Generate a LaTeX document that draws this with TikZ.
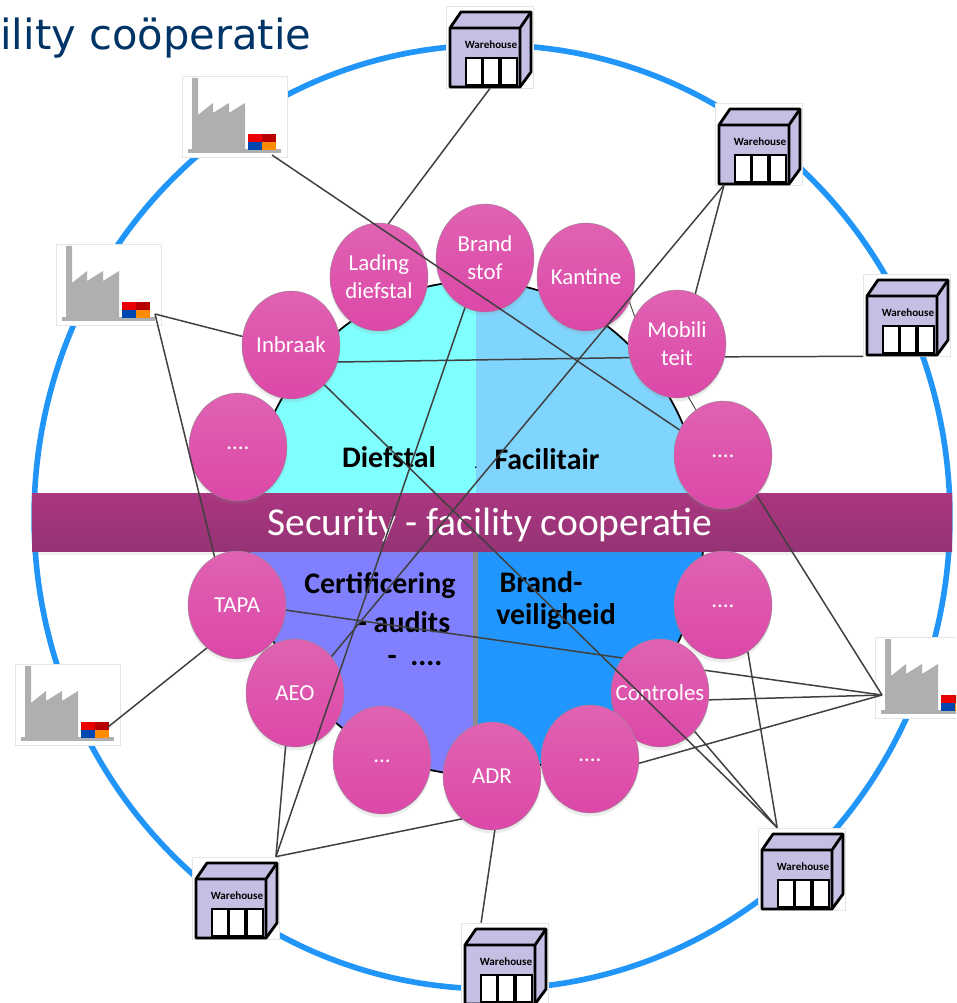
\documentclass[tikz,border=0pt]{standalone}
\usepackage{fontspec}
\setmainfont{Carlito}
\newfontfamily\headfont{DejaVu Sans}
\usepackage{tikz}
\usetikzlibrary{shapes.geometric,shadows}
\definecolor{ringblue}{HTML}{2196F8}
\definecolor{whfill}{HTML}{C5BFE3}
\definecolor{facgrey}{HTML}{AEAFB1}
\definecolor{linkgrey}{HTML}{404040}
\definecolor{bubtop}{HTML}{E062B2}
\definecolor{bubbot}{HTML}{DC48A8}
\definecolor{purpletop}{HTML}{AA367F}
\definecolor{purplebot}{HTML}{953375}
\definecolor{titleblue}{HTML}{003366}
\definecolor{dieffill}{HTML}{80FFFF}
\definecolor{facifill}{HTML}{80D5FF}
\definecolor{certfill}{HTML}{8080FF}
\definecolor{brandfill}{HTML}{2196FF}
\newcommand{\lowdots}[1]{\raisebox{-2.5pt}{#1}}
\tikzstyle{bubble} = [ellipse, draw=black!45, very thin, minimum width=98*.02cm, minimum height=108*.02cm, inner xsep=-12pt, inner ysep=0pt, top color=bubtop, bottom color=bubbot, text=white, align=center, font=\fontsize{13}{16}\selectfont, drop shadow={opacity=.15, shadow xshift=0pt, shadow yshift=-2pt}]
\tikzstyle{area} = [font=\bfseries\fontsize{17}{20}\selectfont, text=black, inner sep=0pt]
\tikzstyle{link} = [draw=linkgrey, line width=.85pt]
\tikzstyle{whbox} = [rectangle, draw=black!10, fill=white, minimum width=87*.02cm, minimum height=82*.02cm, inner sep=0pt]
\tikzstyle{facbox} = [rectangle, draw=black!10, fill=white, minimum width=105*.02cm, minimum height=81*.02cm, inner sep=0pt]
\tikzset{
    warehouse/.pic={
        \draw [fill=whfill, line width=1.6pt, line join=round] (-40,-19) -- (-29,-35) -- (41,-35) -- (41,25) -- (30,40) -- (-40,40) -- cycle;
        \draw [line width=1.6pt] (-40,-19) -- (30,-19) -- (30,40) (30,-19) -- (41,-35);
        \draw [fill=white, line width=1.2pt] (-24,11) rectangle (-8,38);
        \draw [fill=white, line width=1.2pt] (-7,11) rectangle (9,38);
        \draw [fill=white, line width=1.2pt] (11,11) rectangle (27,38);
        \node [font=\bfseries\fontsize{6.3}{7}\selectfont, inner sep=0pt] at (1,-2) {Warehouse};
    },
    factory/.pic={
        \fill [facgrey] (-43,-39) -- (-37,-39) -- (-37,-2) -- (-22,-14) -- (-22,-4) -- (-6,-14) -- (-6,-4) -- (10,-14) -- (10,33) -- (-43,33) -- cycle;
        \fill [facgrey] (-47,32) rectangle (46,36);
        \fill [red!92!black] (13,17) rectangle (27,25);
        \fill [red!72!black] (27,17) rectangle (41,25);
        \fill [blue!60!cyan!70!black] (13,25) rectangle (27,33);
        \fill [orange!90!yellow] (27,25) rectangle (41,33);
    }
}
\begin{document}
\begin{tikzpicture}[x=.02cm, y=-.02cm]
    \clip (0,0) rectangle (956,1003);
    \fill [white] (0,0) rectangle (956,1003);
    \node [anchor=base west, inner sep=0pt, text=titleblue, font=\headfont\fontsize{23.7}{26}\selectfont] (title) at (0,50) {ility coöperatie};
    %ring
    \draw [ringblue, line width=3.2pt] (492,517) ellipse [x radius=9.16cm, y radius=9.44cm];
    %the four areas
    \begin{scope}
        \clip (476,528) ellipse [x radius=4.56cm, y radius=4.94cm];
        \fill [dieffill] (240,270) rectangle (476,528);
        \fill [facifill] (476,270) rectangle (710,528);
        \fill [certfill] (240,528) rectangle (476,790);
        \fill [brandfill] (476,528) rectangle (710,790);
        \fill [black!45] (473,528) rectangle (478,790);
    \end{scope}
    \draw [black, line width=1pt] (476,528) ellipse [x radius=4.56cm, y radius=4.94cm];
    \node [rectangle, minimum width=920*.02cm, minimum height=58*.02cm, top color=purpletop, bottom color=purplebot, inner sep=0pt, drop shadow={opacity=.12, shadow xshift=0pt, shadow yshift=-2pt}] (band) at (492,522) {};
    \node [inner sep=0pt, text=white, font=\fontsize{22.5}{26}\selectfont] (bandtext) at (490,525) {Security - facility cooperatie};
    %area titles
    \node [area] (diefstal) at (389,457) {Diefstal};
    \node [area] (facilitair) at (547,459) {Facilitair};
    \node [area] (cert) at (380,586) {Certificering};
    \node [area] (audits) at (404,622) {- audits};
    \node [area] (more) at (415,661) {-\ \ ....};
    \node [area] (brand) at (541,582) {Brand-};
    \node [area] (veilig) at (556,617) {veiligheid};
    \node [inner sep=0pt, font=\fontsize{8}{8}\selectfont] (dot) at (476,468) {.};
    %warehouses and factories
    \node [whbox] (whn) at (490,47) {};
    \node [whbox] (whne) at (759,144) {};
    \node [whbox] (whe) at (907,315) {};
    \node [whbox] (whse) at (802,869) {};
    \node [whbox] (whs) at (505,964) {};
    \node [whbox] (whsw) at (236,898) {};
    \pic at (whn) {warehouse};
    \pic at (whne) {warehouse};
    \pic at (whe) {warehouse};
    \pic at (whse) {warehouse};
    \pic at (whs) {warehouse};
    \pic at (whsw) {warehouse};
    \node [facbox] (factop) at (235,117) {};
    \node [facbox] (facleft) at (109,285) {};
    \node [facbox] (faclow) at (68,705) {};
    \node [facbox] (facright) at (928,678) {};
    \pic at (factop) {factory};
    \pic at (facleft) {factory};
    \pic at (faclow) {factory};
    \pic at (facright) {factory};
    \coordinate (factopout) at (272,155);
    \coordinate (facleftout) at (155,314);
    \coordinate (faclowout) at (108,727);
    \coordinate (facrightout) at (882,695);
    \coordinate (whnefoot) at (724,185);
    %bubbles
    \node [bubble] (dotsnw) at (238,447) {\lowdots{....}};
    \node [bubble] (inbraak) at (291,345) {Inbraak};
    \node [bubble] (lading) at (379,277) {Lading\\diefstal};
    \node [bubble] (brandstof) at (485,258) {Brand\\stof};
    \node [bubble] (kantine) at (586,277) {Kantine};
    \node [bubble] (mobiliteit) at (677,344) {Mobili\\teit};
    \node [bubble] (dotsne) at (723,455) {\lowdots{....}};
    \node [bubble] (dotse) at (723,605) {\lowdots{....}};
    \node [bubble] (controles) at (660,693) {Controles};
    \node [bubble] (dotsse) at (590,759) {\lowdots{....}};
    \node [bubble] (adr) at (492,776) {ADR};
    \node [bubble] (dotssw) at (382,760) {\lowdots{...}};
    \node [bubble] (aeo) at (295,693) {AEO};
    \node [bubble] (tapa) at (237,605) {TAPA};
    %connectors
    \draw [link, line width=.5pt] (kantine.-30) -- (mobiliteit.147);
    \draw [link, line width=.5pt] (mobiliteit.-78) -- (dotsne.121);
    \draw [link] (whn.south) -- (lading.80);
    \draw [link] (factopout) -- (dotsne.150);
    \draw [link] (facleftout) -- (inbraak.170);
    \draw [link] (facleftout) -- (tapa.115);
    \draw [link] (inbraak.-20) -- (mobiliteit.-164);
    \draw [link] (mobiliteit.-15) -- (whe.south west);
    \draw [link] (inbraak.-50) -- (whse.121);
    \draw [link] (whnefoot) -- (mobiliteit.70);
    \draw [link] (whnefoot) -- (aeo.45);
    \draw [link] (brandstof.-112) -- (whsw.46);
    \draw [link] (aeo.-100) -- (whsw.46);
    \draw [link] (adr.-125) -- (whsw.46);
    \draw [link] (adr.-87) -- (whs.120);
    \draw [link] (tapa.-125) -- (faclowout);
    \draw [link] (tapa.-6) -- (controles.137);
    \draw [link] (controles.27) -- (facrightout);
    \draw [link] (controles.-8) -- (facrightout);
    \draw [link] (dotsse.-5) -- (facrightout);
    \draw [link] (dotsne.-50) -- (facrightout);
    \draw [link] (controles.-48) -- (whse.121);
    \draw [link] (dotse.-62) -- (whse.121);
\end{tikzpicture}
\end{document}
